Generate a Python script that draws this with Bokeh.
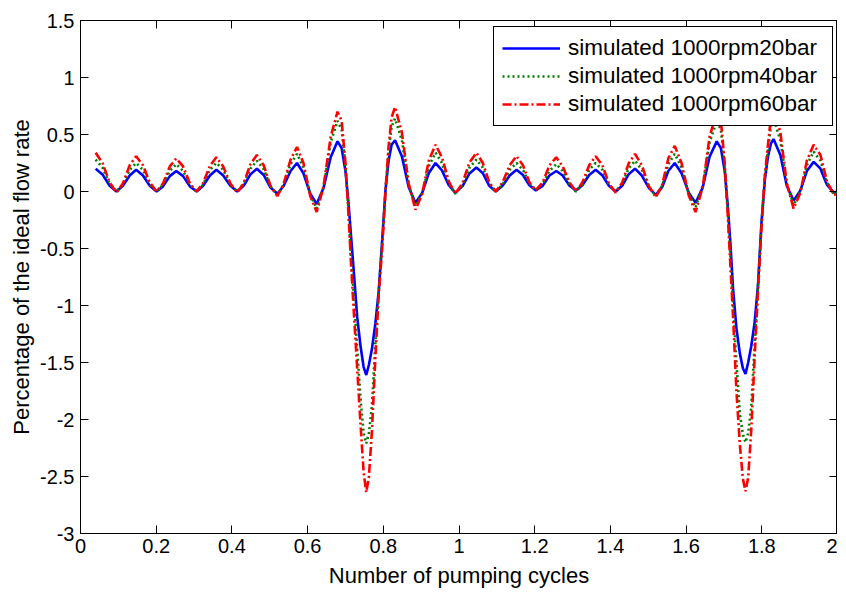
from bokeh.plotting import figure
from bokeh.models import LinearAxis, FixedTicker, Legend, LegendItem, Range1d
from bokeh.embed import file_html
from bokeh.resources import INLINE

# ---- data ----
cycles = [
    0.040, 0.058, 0.077, 0.095, 0.112, 0.130, 0.147, 0.165, 0.183, 0.201,
    0.218, 0.236, 0.253, 0.271, 0.289, 0.307, 0.324, 0.342, 0.359, 0.377,
    0.396, 0.414, 0.431, 0.449, 0.466, 0.484, 0.502, 0.520, 0.537, 0.555,
    0.572, 0.589, 0.607, 0.624, 0.642, 0.661, 0.679, 0.690, 0.700, 0.708,
    0.715, 0.722, 0.731, 0.740, 0.748, 0.755, 0.762, 0.770, 0.779, 0.788,
    0.797, 0.806, 0.814, 0.822, 0.831, 0.849, 0.867, 0.885, 0.903, 0.920,
    0.938, 0.955, 0.973, 0.990, 1.009, 1.027, 1.046, 1.063, 1.080, 1.097,
    1.115, 1.134, 1.152, 1.169, 1.186, 1.203, 1.221, 1.239, 1.257, 1.274,
    1.292, 1.309, 1.326, 1.344, 1.361, 1.379, 1.396, 1.414, 1.431, 1.448,
    1.465, 1.483, 1.502, 1.520, 1.537, 1.553, 1.570, 1.588, 1.607, 1.625,
    1.644, 1.662, 1.681, 1.692, 1.702, 1.710, 1.717, 1.724, 1.733, 1.742,
    1.750, 1.757, 1.764, 1.772, 1.781, 1.790, 1.799, 1.808, 1.816, 1.824,
    1.831, 1.849, 1.866, 1.884, 1.902, 1.919, 1.937, 1.955, 1.972, 1.990,
    2.000,
]

flow_20bar = [
    0.20, 0.15, 0.05, 0.00, 0.05, 0.14, 0.19, 0.14, 0.05, 0.00,
    0.045, 0.135, 0.18, 0.135, 0.045, 0.00, 0.05, 0.14, 0.19, 0.14,
    0.05, 0.00, 0.05, 0.15, 0.20, 0.145, 0.035, -0.02, 0.05, 0.18,
    0.25, 0.16, -0.02, -0.11, 0.03, 0.30, 0.44, 0.38, 0.18, -0.10,
    -0.40, -0.70, -1.10, -1.36, -1.54, -1.61, -1.52, -1.38, -1.16, -0.87,
    -0.43, 0.02, 0.27, 0.41, 0.45, 0.31, 0.04, -0.10, -0.01, 0.16,
    0.25, 0.185, 0.055, -0.01, 0.045, 0.155, 0.21, 0.16, 0.05, 0.00,
    0.05, 0.14, 0.19, 0.145, 0.055, 0.01, 0.05, 0.14, 0.18, 0.14,
    0.05, 0.01, 0.055, 0.145, 0.19, 0.14, 0.05, 0.00, 0.05, 0.15,
    0.20, 0.14, 0.03, -0.03, 0.04, 0.18, 0.25, 0.16, -0.01, -0.10,
    0.035, 0.305, 0.44, 0.38, 0.18, -0.12, -0.45, -0.85, -1.20, -1.42,
    -1.55, -1.60, -1.50, -1.36, -1.15, -0.82, -0.28, 0.10, 0.30, 0.42,
    0.46, 0.32, 0.05, -0.08, 0.01, 0.18, 0.26, 0.20, 0.06, -0.01,
    0.00,
]

flow_40bar = [
    0.28, 0.21, 0.07, 0.00, 0.06, 0.19, 0.25, 0.19, 0.06, 0.00,
    0.06, 0.18, 0.24, 0.18, 0.06, 0.00, 0.06, 0.19, 0.25, 0.19,
    0.06, 0.00, 0.07, 0.20, 0.27, 0.195, 0.045, -0.03, 0.06, 0.24,
    0.33, 0.21, -0.03, -0.15, 0.04, 0.43, 0.62, 0.54, 0.22, -0.16,
    -0.60, -0.90, -1.38, -1.82, -2.12, -2.21, -2.12, -1.88, -1.33, -0.87,
    -0.45, 0.02, 0.35, 0.57, 0.64, 0.45, 0.06, -0.13, -0.01, 0.22,
    0.34, 0.25, 0.07, -0.02, 0.055, 0.205, 0.28, 0.21, 0.07, 0.00,
    0.06, 0.19, 0.25, 0.19, 0.07, 0.01, 0.07, 0.18, 0.24, 0.18,
    0.06, 0.00, 0.06, 0.19, 0.25, 0.19, 0.06, 0.00, 0.07, 0.20,
    0.27, 0.19, 0.04, -0.04, 0.05, 0.24, 0.33, 0.21, -0.02, -0.14,
    0.05, 0.43, 0.62, 0.54, 0.22, -0.17, -0.57, -0.98, -1.50, -1.95,
    -2.13, -2.20, -2.12, -1.90, -1.35, -0.82, -0.30, 0.12, 0.35, 0.57,
    0.64, 0.45, 0.07, -0.12, 0.00, 0.23, 0.35, 0.27, 0.08, -0.02,
    -0.01,
]

flow_60bar = [
    0.34, 0.25, 0.08, -0.01, 0.07, 0.23, 0.31, 0.23, 0.08, 0.00,
    0.07, 0.22, 0.29, 0.22, 0.07, 0.00, 0.075, 0.225, 0.30, 0.22,
    0.07, -0.01, 0.07, 0.24, 0.32, 0.23, 0.05, -0.04, 0.07, 0.28,
    0.39, 0.25, -0.04, -0.18, 0.04, 0.48, 0.70, 0.62, 0.25, -0.20,
    -0.65, -1.05, -1.55, -2.05, -2.46, -2.64, -2.50, -2.10, -1.46, -0.90,
    -0.50, 0.02, 0.40, 0.65, 0.74, 0.52, 0.07, -0.16, -0.02, 0.27,
    0.41, 0.30, 0.09, -0.02, 0.07, 0.25, 0.34, 0.25, 0.08, 0.00,
    0.08, 0.23, 0.31, 0.23, 0.08, 0.01, 0.08, 0.23, 0.30, 0.22,
    0.08, 0.00, 0.08, 0.23, 0.31, 0.23, 0.07, -0.01, 0.075, 0.245,
    0.33, 0.23, 0.045, -0.05, 0.06, 0.29, 0.40, 0.25, -0.035, -0.18,
    0.04, 0.48, 0.70, 0.62, 0.25, -0.20, -0.65, -1.10, -1.75, -2.22,
    -2.52, -2.63, -2.51, -2.10, -1.46, -0.87, -0.32, 0.14, 0.40, 0.65,
    0.74, 0.52, 0.07, -0.15, -0.01, 0.27, 0.41, 0.32, 0.09, -0.03,
    -0.02,
]

series_names = ["simulated 1000rpm20bar", "simulated 1000rpm40bar", "simulated 1000rpm60bar"]

x_ticks = [0, 0.2, 0.4, 0.6, 0.8, 1.0, 1.2, 1.4, 1.6, 1.8, 2.0]
x_tick_labels = ["0", "0.2", "0.4", "0.6", "0.8", "1", "1.2", "1.4", "1.6", "1.8", "2"]
y_ticks = [-3, -2.5, -2, -1.5, -1, -0.5, 0, 0.5, 1, 1.5]
y_tick_labels = ["-3", "-2.5", "-2", "-1.5", "-1", "-0.5", "0", "0.5", "1", "1.5"]

FONT = "Liberation Sans"
TICK_FS = "20px"
LABEL_FS = "22px"
LEGEND_FS = "22.5px"

p = figure(
    frame_width=757, frame_height=513,
    x_range=Range1d(0, 2), y_range=Range1d(-3, 1.5),
    output_backend="svg", toolbar_location=None,
    min_border_left=80, min_border_top=20, min_border_right=0, min_border_bottom=0,
    background_fill_color="white", border_fill_color="white",
)
p.grid.visible = False
p.outline_line_color = "black"
p.outline_line_width = 1


def style_axis(ax, labels=True):
    ax.axis_line_color = "black"
    ax.axis_line_width = 1
    ax.major_tick_in = 8
    ax.major_tick_out = 0
    ax.major_tick_line_color = "black"
    ax.minor_tick_line_color = None
    ax.major_label_text_font = FONT
    ax.major_label_text_color = "black"
    if labels:
        ax.major_label_text_font_size = TICK_FS
    else:
        ax.major_label_text_font_size = "0px"
        ax.major_label_standoff = 0


xax = p.xaxis[0]
xax.ticker = FixedTicker(ticks=x_ticks)
xax.major_label_overrides = {t: l for t, l in zip(x_ticks, x_tick_labels)}
style_axis(xax)
xax.major_label_standoff = 5
xax.axis_label = "Number of pumping cycles"
xax.axis_label_text_font = FONT
xax.axis_label_text_font_size = LABEL_FS
xax.axis_label_text_font_style = "normal"
xax.axis_label_text_color = "black"
xax.axis_label_standoff = 7

yax = p.yaxis[0]
yax.ticker = FixedTicker(ticks=y_ticks)
yax.major_label_overrides = {t: l for t, l in zip(y_ticks, y_tick_labels)}
style_axis(yax)
yax.major_label_standoff = 6
yax.axis_label = "Percentage of the ideal flow rate"
yax.axis_label_text_font = FONT
yax.axis_label_text_font_size = LABEL_FS
yax.axis_label_text_font_style = "normal"
yax.axis_label_text_color = "black"
yax.axis_label_standoff = 3

top = LinearAxis(ticker=FixedTicker(ticks=x_ticks))
style_axis(top, labels=False)
p.add_layout(top, "above")
right = LinearAxis(ticker=FixedTicker(ticks=y_ticks))
style_axis(right, labels=False)
p.add_layout(right, "right")

r20 = p.line(cycles, flow_20bar, line_color="#0000ff", line_width=2.6)
r40 = p.line(cycles, flow_40bar, line_color="#008000", line_width=2.6, line_dash="2 3")
r60 = p.line(cycles, flow_60bar, line_color="#ff0000", line_width=2.6, line_dash="9 3 2 3")

legend = Legend(
    items=[LegendItem(label=n, renderers=[r]) for n, r in zip(series_names, [r20, r40, r60])],
    location=(413, 407),
    label_text_font=FONT, label_text_font_size=LEGEND_FS, label_text_color="black",
    glyph_width=58, glyph_height=26, label_height=26, label_width=256, label_standoff=8,
    spacing=2, padding=8, margin=0,
    border_line_color="black", border_line_width=1, border_line_alpha=1,
    background_fill_color="white", background_fill_alpha=1,
)
p.add_layout(legend, "center")

open("out.html", "w").write(file_html(p, INLINE))
